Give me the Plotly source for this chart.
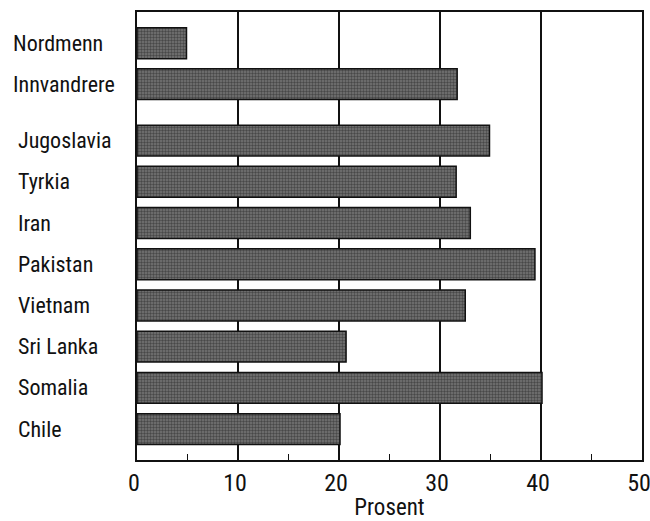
import plotly.graph_objects as go

# Data
categories = ["Nordmenn", "Innvandrere", "Jugoslavia", "Tyrkia", "Iran",
              "Pakistan", "Vietnam", "Sri Lanka", "Somalia", "Chile"]
values = [4.9, 31.7, 34.9, 31.6, 33.0, 39.4, 32.5, 20.7, 40.1, 20.1]
positions = [9.36, 8.37, 7, 6, 5, 4, 3, 2, 1, 0]
label_indent_px = [11, 11, 16, 16, 16, 16, 16, 16, 16, 16]
x_ticks = [0, 10, 20, 30, 40, 50]

W, H = 650, 521
L, R, T, B = 137, 8, 12, 61
plot_w = W - L - R

NARROW = "Liberation Sans Narrow, Arial Narrow, Roboto Condensed, Liberation Sans, Arial, sans-serif"

fig = go.Figure()
fig.add_trace(go.Bar(
    y=positions, x=values, orientation="h", width=0.75,
    marker=dict(
        color="#767676",
        line=dict(color="#111111", width=1.5),
        pattern=dict(shape=".", fgcolor="#1a1a1a", bgcolor="#767676", size=3, solidity=0.5),
    ),
    hoverinfo="skip", showlegend=False,
))

for cat, pos, ind in zip(categories, positions, label_indent_px):
    fig.add_annotation(
        x=(ind - L) / plot_w, xref="paper", y=pos, yref="y",
        text=cat, showarrow=False, xanchor="left", yanchor="middle",
        font=dict(family=NARROW, size=22, color="#111111"),
    )

fig.update_layout(
    width=W, height=H,
    margin=dict(l=L, r=R, t=T, b=B),
    paper_bgcolor="white", plot_bgcolor="white",
    xaxis=dict(
        range=[0, 50], tickvals=x_ticks, ticktext=[str(v) for v in x_ticks],
        showgrid=True, gridcolor="#111111", gridwidth=2,
        showline=True, linecolor="#111111", linewidth=2, mirror=True,
        ticks="", ticklen=0, automargin=False,
        ticklabeloverflow="allow", ticklabelshift=-3,
        minor=dict(tickvals=[5, 15, 25, 35, 45], ticks="inside", ticklen=6,
                   tickcolor="#111111", tickwidth=1.5, showgrid=False),
        tickfont=dict(family=NARROW, size=24, color="#111111"),
        title=dict(text="Prosent", font=dict(family=NARROW, size=23, color="#111111"), standoff=6),
        zeroline=False, fixedrange=True,
    ),
    yaxis=dict(
        range=[-0.75, 10.12], showgrid=False, showticklabels=False, ticks="",
        showline=True, linecolor="#111111", linewidth=2, mirror=True,
        zeroline=False, fixedrange=True, automargin=False,
    ),
)

fig.write_html(
    "out.html",
    config={"displayModeBar": False, "staticPlot": True},
    post_script="document.body.style.margin='0';document.body.style.padding='0';",
)
